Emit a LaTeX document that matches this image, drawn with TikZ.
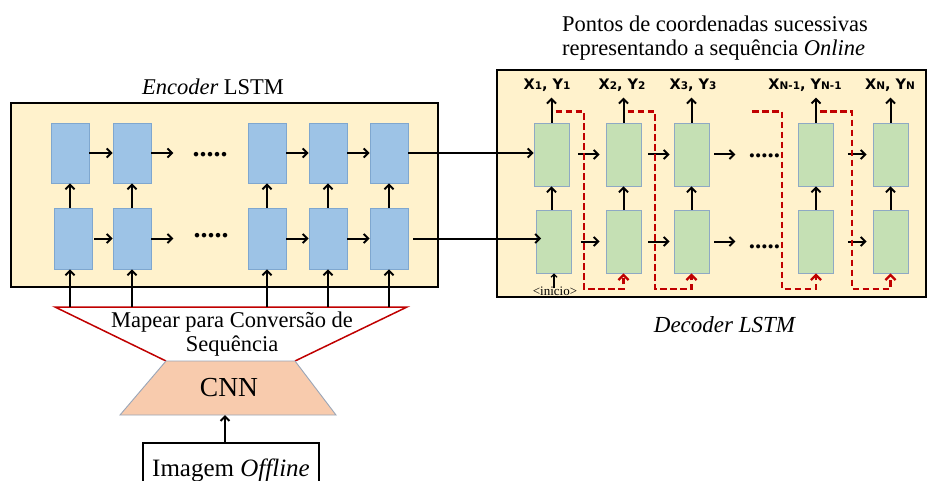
\documentclass[tikz,border=0pt]{standalone}
\usepackage{fontspec}
\setmainfont{Liberation Serif}
\newfontfamily\lblfont{DejaVu Sans}
\usetikzlibrary{arrows.meta}
\definecolor{panelfill}{HTML}{FFF2CC}
\definecolor{encfill}{HTML}{9DC3E6}
\definecolor{encline}{HTML}{7FA7CF}
\definecolor{decfill}{HTML}{C5E0B4}
\definecolor{decline}{HTML}{8FA9C4}
\definecolor{cnnfill}{HTML}{F8CBAD}
\definecolor{cnnline}{HTML}{9AA6B8}
\definecolor{dred}{HTML}{C00000}
\newcommand\lowidx[1]{{\fontsize{10.5}{10.5}\selectfont #1}}
\begin{document}
\begin{tikzpicture}[x=1pt,y=-1pt,
  panel/.style={draw=black, fill=panelfill, line width=2.6pt, inner sep=0},
  enccell/.style={draw=encline, fill=encfill, line width=0.8pt, minimum width=38pt, minimum height=60pt, inner sep=0},
  deccell/.style={draw=decline, fill=decfill, line width=0.8pt, minimum width=35pt, minimum height=63pt, inner sep=0},
  arr/.style={draw=black, line width=2pt, -{Straight Barb[length=4.5pt,width=9pt]}},
  redarr/.style={draw=dred, line width=2.3pt, dash pattern=on 6.5pt off 3.5pt, -{Straight Barb[length=5pt,width=10pt]}},
  lbl/.style={font=\lblfont\bfseries\fontsize{14.5}{14.5}\selectfont, inner sep=0},
  dotsa/.style={font=\bfseries\fontsize{28}{28}\selectfont, inner sep=0, anchor=base},
  dotsb/.style={font=\bfseries\fontsize{25}{25}\selectfont, inner sep=0, anchor=base},
  txt/.style={font=\fontsize{22.5}{24}\selectfont, inner sep=0}]
\useasboundingbox[fill=white] (0,0) rectangle (928,481);

% ---------------- encoder ----------------
\node[panel, minimum width=427pt, minimum height=184pt] (encp) at (224.5,195) {};
\node[txt] (enclbl) at (213,87) {\textit{Encoder} LSTM};

\node[enccell] (et1) at (70,153) {};
\node[enccell] (et2) at (132,153) {};
\node[enccell] (et4) at (267,153) {};
\node[enccell] (et5) at (328,153) {};
\node[enccell] (et6) at (389,153) {};
\node[enccell, minimum height=61pt] (eb1) at (73,238.5) {};
\node[enccell, minimum height=61pt] (eb2) at (132,238.5) {};
\node[enccell, minimum height=61pt] (eb4) at (267,238.5) {};
\node[enccell, minimum height=61pt] (eb5) at (328,238.5) {};
\node[enccell, minimum height=61pt] (eb6) at (389,238.5) {};

\node[dotsa] (edt) at (210,157) {.....};
\node[dotsa] (edb) at (211,237) {.....};

% horizontal links
\draw[arr] (et1.east) -- (et2.west);
\draw[arr] (et2.east) -- ([xshift=22pt]et2.east);
\draw[arr] (et4.east) -- (et5.west);
\draw[arr] (et5.east) -- (et6.west);
\draw[arr] ([xshift=2pt]eb1.east |- eb2.west) -- (eb2.west);
\draw[arr] (eb2.east) -- ([xshift=22pt]eb2.east);
\draw[arr] (eb4.east) -- (eb5.west);
\draw[arr] (eb5.east) -- (eb6.west);
% vertical links
\foreach \c in {1,2,4,5,6}
  \draw[arr] (et\c.south |- eb\c.north) -- (et\c.south);

% ---------------- mapping and CNN ----------------
\coordinate (mTL) at (55,307);
\coordinate (mTR) at (407,307);
\coordinate (mBL) at (166,361);
\coordinate (mBR) at (295,361);
\coordinate (cBL) at (120,415);
\coordinate (cBR) at (336,415);
\fill[white] (mTL) -- (mTR) -- (mBR) -- (mBL) -- cycle;
\draw[dred, line width=1.5pt] (mBL) -- (mTL) -- (mTR) -- (mBR);
\node[txt, align=center, font=\fontsize{22.5}{24}\selectfont] (maptxt) at (232,334) {Mapear para Conversão de\\Sequência};
\foreach \c in {1,2,4,5,6}
  \draw[arr] (et\c.south |- mTL) -- (et\c.south |- eb\c.south);

\draw[draw=cnnline, fill=cnnfill, line width=0.9pt] (mBL) -- (mBR) -- (cBR) -- (cBL) -- cycle;
\node[txt, font=\fontsize{27.5}{27.5}\selectfont] (cnn) at (229,388) {CNN};

\node[draw=black, line width=1.8pt, minimum width=176pt, minimum height=48pt, inner sep=0,
      font=\fontsize{25}{25}\selectfont, text depth=0pt] (img) at (231,467) {\raisebox{-2pt}{Imagem \textit{Offline}}};
\draw[arr] ([xshift=-6pt]img.north) -- ([xshift=-6pt]img.north |- cBL);

% ---------------- decoder ----------------
\node[txt, align=left] (toptxt) at (715,38.5) {Pontos de coordenadas sucessivas\\representando a sequência \textit{Online}};
\node[panel, minimum width=429pt, minimum height=227pt] (decp) at (711.5,183.5) {};
\node[txt, font=\fontsize{23}{24}\selectfont] (declbl) at (725,325) {\textit{Decoder LSTM}};

\node[deccell] (dt1) at (551.5,154.5) {};
\node[deccell] (dt2) at (623.5,154.5) {};
\node[deccell] (dt3) at (691.5,154.5) {};
\node[deccell] (dt4) at (816,154.5) {};
\node[deccell] (dt5) at (890.5,154.5) {};
\node[deccell] (db1) at (554,241.5) {};
\node[deccell] (db2) at (623.5,241.5) {};
\node[deccell] (db3) at (691.5,241.5) {};
\node[deccell] (db4) at (816,241.5) {};
\node[deccell] (db5) at (890.5,241.5) {};

\node[dotsb] (ddt) at (764.5,158) {.....};
\node[dotsb] (ddb) at (764.5,248) {.....};

% output labels
\node[lbl] (o1) at (547,85) {X\lowidx{1}, Y\lowidx{1}};
\node[lbl] (o2) at (622,85) {X\lowidx{2}, Y\lowidx{2}};
\node[lbl] (o3) at (693,85) {X\lowidx{3}, Y\lowidx{3}};
\node[lbl] (o4) at (805,85) {X\lowidx{N-1}, Y\lowidx{N-1}};
\node[lbl] (o5) at (890,85) {X\lowidx{N}, Y\lowidx{N}};
\foreach \c in {1,...,5} {
  \draw[arr] (dt\c.north) -- ++(0,-25);
  \draw[arr] (dt\c.south |- db\c.north) -- (dt\c.south);
}

% horizontal links
\draw[arr] ([xshift=9pt]dt1.east) -- ([xshift=-6pt]dt2.west);
\draw[arr] ([xshift=7pt]dt2.east) -- ([xshift=-4pt]dt3.west);
\draw[arr] ([xshift=5pt]dt3.east) -- ([xshift=26pt]dt3.east);
\draw[arr] ([xshift=14pt]dt4.east) -- ([xshift=-6pt]dt5.west);
\draw[arr] ([xshift=9pt]db1.east) -- ([xshift=-6pt]db2.west);
\draw[arr] ([xshift=7pt]db2.east) -- ([xshift=-4pt]db3.west);
\draw[arr] ([xshift=5pt]db3.east) -- ([xshift=26pt]db3.east);
\draw[arr] ([xshift=14pt]db4.east) -- ([xshift=-6pt]db5.west);

% start token
\node[font=\fontsize{13}{13}\selectfont, inner sep=0] (ini) at (555,291) {<inicio>};
\draw[draw=black, line width=1.2pt, -{Straight Barb[length=3pt,width=6pt]}] ([yshift=-2pt]db1.south |- ini.north) -- (db1.south);

% encoder state into decoder
\draw[arr] (et6.east) -- (et6.east -| dt1.west);
\draw[arr] ([xshift=5pt]eb6.east) -- ([xshift=5pt]eb6.east -| db1.west);

% feedback of each output to the next step
\draw[redarr] ([shift={(4,-11)}]dt1.north) -| (584,289) -| (db2.south);
\draw[redarr] ([shift={(4,-11)}]dt2.north) -| (655,289) -| (db3.south);
\draw[redarr] ([shift={(-64,-11)}]dt4.north) -| (782,289) -| (db4.south);
\draw[redarr] ([shift={(4,-11)}]dt4.north) -| (852,289) -| (db5.south);
\end{tikzpicture}
\end{document}
